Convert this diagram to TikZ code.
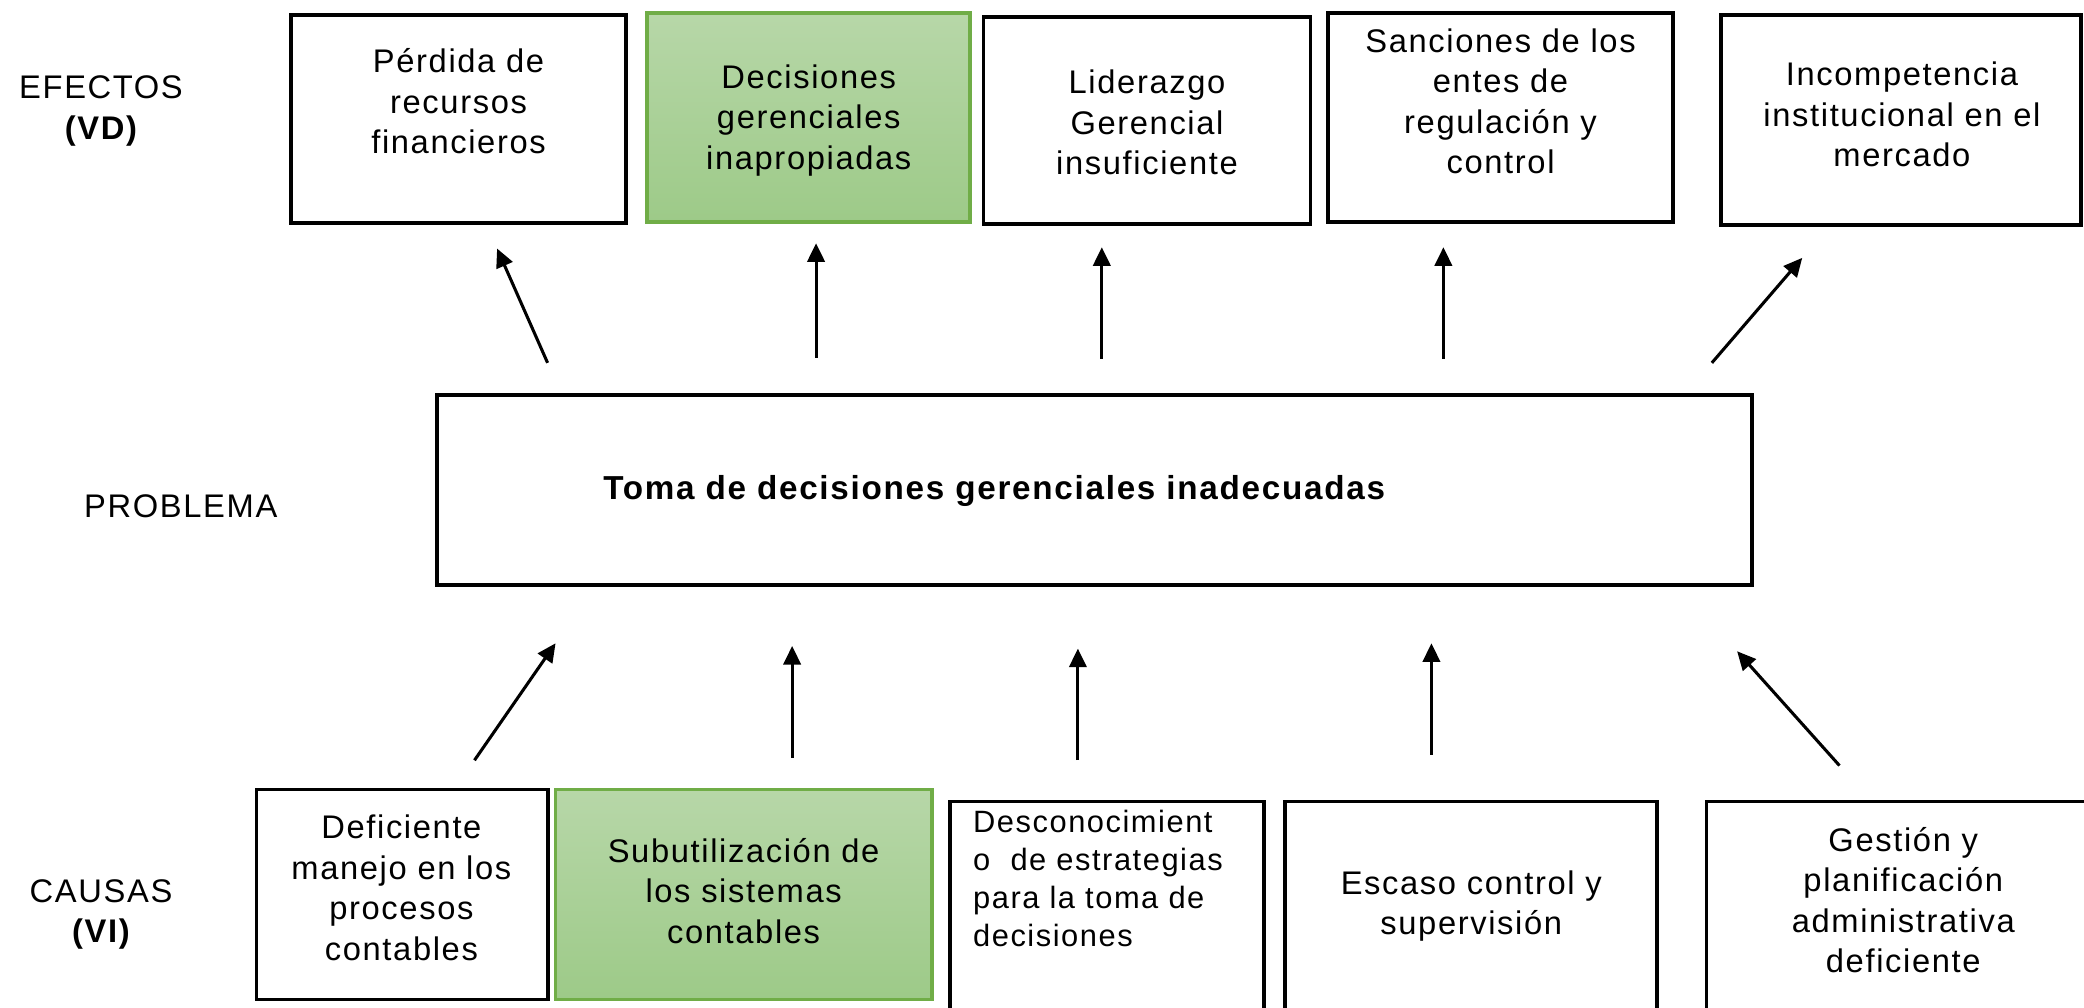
\documentclass[tikz,border=0pt]{standalone}
\usepackage{fontspec}
\setmainfont{Liberation Sans}[LetterSpace=5]
\newfontfamily\titlefont{Liberation Sans}[LetterSpace=5.2]
\usetikzlibrary{arrows.meta}
\definecolor{gborder}{RGB}{112,173,71}
\definecolor{gtop}{RGB}{183,215,168}
\definecolor{gbot}{RGB}{157,202,136}
\newcommand\fs{\fontsize{24.6}{30.5}\selectfont}
\newcommand\fsm{\fontsize{23.2}{28.7}\selectfont}
\newcommand\sq{\rule[-8pt]{0pt}{30pt}}
\tikzset{
  box/.style={draw=black, line width=2.9pt, rectangle, inner sep=0pt, outer sep=0pt, anchor=north west},
  gbox/.style={box, draw=gborder, top color=gtop, bottom color=gbot},
  txt/.style={align=center, font=\fs, inner sep=0pt, execute at begin node=\sq, execute at end node=\sq},
  lbl/.style={font=\fs, inner sep=0pt, anchor=base},
  arr/.style={line width=2.3pt, -{Triangle[length=14pt,width=13pt]}},
}
\begin{document}
\begin{tikzpicture}[x=1pt,y=-1pt]
\useasboundingbox (0,0) rectangle (1568,758);
\clip (0,0) rectangle (1568,758);
% side labels
\node[lbl] (lefe) at (76,74) {EFECTOS};
\node[lbl, font=\fs\bfseries] (lvd) at (76,105) {(VD)};
\node[lbl] (lprob) at (136,389) {PROBLEMA};
\node[lbl] (lcau) at (76,679) {CAUSAS};
\node[lbl, font=\fs\bfseries] (lvi) at (76,709) {(VI)};
% effects
\node[box, minimum width=252pt, minimum height=157pt] (e1) at (219,11) {};
\node[gbox, minimum width=243pt, minimum height=157pt] (e2) at (487,10) {};
\node[box, minimum width=246pt, minimum height=156pt] (e3) at (740,12.5) {};
\node[box, minimum width=260pt, minimum height=157pt] (e4) at (999,10) {};
\node[box, minimum width=271pt, minimum height=158pt] (e5) at (1295,11) {};
\node[txt] (e1t) at (345,80) {Pérdida de\\recursos\\financieros};
\node[txt] (e2t) at (608.5,92) {Decisiones\\gerenciales\\inapropiadas};
\node[txt] (e3t) at (863,96) {Liderazgo\\Gerencial\\insuficiente};
\node[txt] (e4t) at (1129,80) {Sanciones de los\\entes de\\regulación y\\control};
\node[txt] (e5t) at (1431,90) {Incompetencia\\institucional en el\\mercado};
% problem
\node[box, minimum width=989pt, minimum height=143pt] (prob) at (329,297) {};
\node[inner sep=0pt, anchor=base, font=\fontsize{25}{30}\titlefont\bfseries] (probt) at (748,376) {Toma de decisiones gerenciales inadecuadas};
% causes
\node[box, minimum width=219pt, minimum height=158pt] (c1) at (193,594) {};
\node[gbox, minimum width=283pt, minimum height=158pt] (c2) at (418,594) {};
\node[box, minimum width=236pt, minimum height=170pt] (c3) at (715,603) {};
\node[box, minimum width=280pt, minimum height=170pt] (c4) at (967,603) {};
\node[box, minimum width=300pt, minimum height=170pt] (c5) at (1284,603) {};
\node[txt] (c1t) at (302,672) {Deficiente\\manejo en los\\procesos\\contables};
\node[txt] (c2t) at (559.5,674) {Subutilización de\\los sistemas\\contables};
\node[txt, align=left, anchor=west, font=\fsm] (c3t) at (732,665) {Desconocimient\\o\ \ de estrategias\\para la toma de\\decisiones};
\node[txt] (c4t) at (1107,683) {Escaso control y\\supervisión};
\node[txt] (c5t) at (1432,681) {Gestión y\\planificación\\administrativa\\deficiente};
% arrow end points
\coordinate (a1s) at (412,273); \coordinate (a1e) at (374,187);
\coordinate (a2s) at (614,269); \coordinate (a2e) at (614,183);
\coordinate (a3s) at (829,270); \coordinate (a3e) at (829,186);
\coordinate (a4s) at (1086,270); \coordinate (a4e) at (1086,186);
\coordinate (a5s) at (1288,273); \coordinate (a5e) at (1356,194);
\coordinate (b1s) at (357,572); \coordinate (b1e) at (418,484);
\coordinate (b2s) at (596,570); \coordinate (b2e) at (596,486);
\coordinate (b3s) at (811,572); \coordinate (b3e) at (811,488);
\coordinate (b4s) at (1077,568); \coordinate (b4e) at (1077,484);
\coordinate (b5s) at (1384,576); \coordinate (b5e) at (1307,490);
\foreach \a in {a1,a2,a3,a4,a5,b1,b2,b3,b4,b5}
  \draw[arr] (\a s) -- (\a e);
\end{tikzpicture}
\end{document}
